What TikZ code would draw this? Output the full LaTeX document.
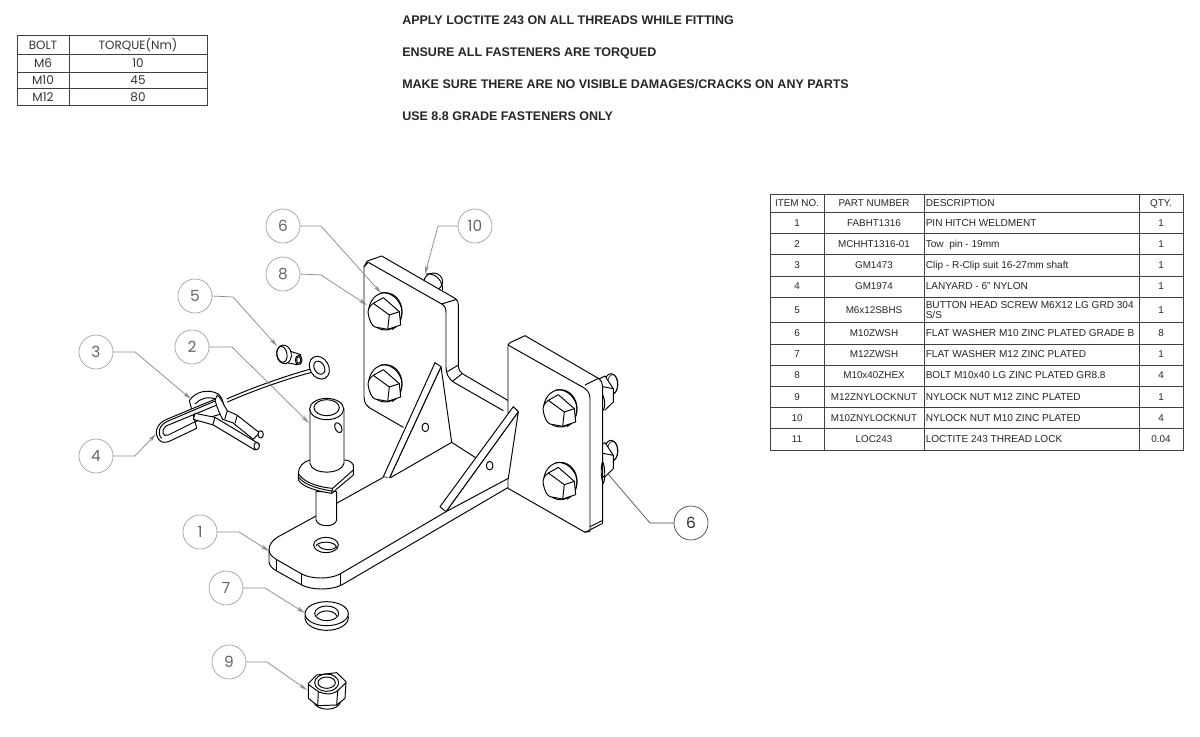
\documentclass[tikz,border=0pt]{standalone}
\usepackage{fontspec}
\setmainfont{Liberation Sans}
\newfontfamily\geo{Poppins}
\usetikzlibrary{arrows.meta}
\definecolor{bal}{gray}{0.62}
\definecolor{lead}{gray}{0.55}
\definecolor{gridc}{gray}{0.25}
\tikzset{
 zA/.style={shift={(60,200)},x=.25pt,y=-.25pt},
 zB/.style={shift={(340,230)},x=.25pt,y=-.25pt},
 zC/.style={shift={(170,450)},x=.25pt,y=-.25pt},
 zD/.style={shift={(290,395)},x=.25pt,y=-.25pt},
 zE/.style={shift={(530,360)},x=.25pt,y=-.25pt},
 zF/.style={shift={(140,380)},x=.25pt,y=-.25pt},
 part/.style={draw=black,fill=white,line width=.72pt,line join=round},
 edge/.style={draw=black,line width=.72pt,line join=round},
 thin edge/.style={draw=black,line width=.45pt},
 balloon/.style={circle,draw=bal,line width=.5pt,minimum size=25.5pt,inner sep=0pt,outer sep=0pt,font=\geo\fontsize{11.5}{12}\selectfont,text=black!60},
 leader/.style={draw=lead,line width=.55pt,-{Stealth[length=6.5pt,width=3pt,fill=lead]}},
 cell/.style={inner sep=0pt,font=\fontsize{7.4}{7.5}\selectfont,text=black!85},
 fixh/.style={text height=5.4pt,text depth=.4pt},
 lcell/.style={inner sep=0pt,font=\fontsize{7.55}{7.5}\selectfont,text=black!85,anchor=west,align=left},
 gcell/.style={inner sep=0pt,text height=6.6pt,text depth=.6pt,font=\geo\fontsize{9}{10}\selectfont,text=black!80},
 note/.style={inner sep=0pt,anchor=west,text height=7pt,text depth=0pt,font=\bfseries\fontsize{9.38}{10}\selectfont,text=black!85},
 hexbolt/.pic={
  \draw[part] (16,-5) ellipse [x radius=50,y radius=56];
  \draw[edge] (2,-60) .. controls (35,-66) and (64,-35) .. (66,-5) .. controls (66,20) and (56,40) .. (36,50);
  \draw[part] (-20,-29) -- (10,-46) -- (58,-4) -- (62,36) -- (23,49) -- cycle;
  \draw[part] (-20,-29) .. controls (-34,-20) and (-38,-6) .. (-35,4) .. controls (-32,22) and (-25,38) .. (-15,42) -- (23,49) -- (28,6) -- cycle;
  \draw[edge] (28,6) -- (58,-4);
 },
 lockpic/.pic={
  \draw[part] (18,-25) ellipse [x radius=20,y radius=32];
  \draw[thin edge] (23,-26) ellipse [x radius=16,y radius=28];
  \draw[part] (-20,-40) -- (0,-50) -- (25,-12) -- (25,28) -- (0,52) -- (-20,52) -- cycle;
  \draw[edge] (-7,-18) -- (25,-12);
 }
}
\begin{document}
\begin{tikzpicture}[x=.75pt,y=-.75pt]
\useasboundingbox (0,0) rectangle (1200,736);
\fill[white] (0,0) rectangle (1200,736);

% --- notes
\node[note] (n1) at (402,20) {APPLY LOCTITE 243 ON ALL THREADS WHILE FITTING};
\node[note] (n2) at (402,52) {ENSURE ALL FASTENERS ARE TORQUED};
\node[note] (n3) at (402,84) {MAKE SURE THERE ARE NO VISIBLE DAMAGES/CRACKS ON ANY PARTS};
\node[note] (n4) at (402,116) {USE 8.8 GRADE FASTENERS ONLY};

% --- torque table
\draw[gridc,line width=.65pt] (17,35.7) rectangle (207,105.3)
  (69,35.7) -- (69,105.3) (17,54.3) -- (207,54.3) (17,72) -- (207,72) (17,88.3) -- (207,88.3);
\foreach \n/\y/\a/\b in {h/45.5/BOLT/{TORQUE(Nm)},a/63.5/M6/10,b/80.5/M10/45,c/97/M12/80}{
  \node[gcell] (tl\n) at (43,\y) {\a};
  \node[gcell] (tr\n) at (138,\y) {\b};
}

% --- parts table
\draw[gridc,line width=.65pt] (770,194) rectangle (1183,450);
\foreach \x in {824,924,1139} \draw[gridc,line width=.65pt] (\x,194) -- (\x,450);
\foreach \y in {212.3,233.3,254.7,276,297.3,322.7,344,365,386.3,407.7,428.7} \draw[gridc,line width=.65pt] (770,\y) -- (1183,\y);
\foreach \n/\y/\p/\d/\q in {
 0/203/{PART NUMBER}/DESCRIPTION/QTY.,
 1/223/FABHT1316/{PIN HITCH WELDMENT}/1,
 2/244/MCHHT1316-01/{Tow\ \ pin - 19mm}/1,
 3/265/GM1473/{Clip - R-Clip suit 16-27mm shaft}/1,
 4/286.5/GM1974/{LANYARD - 6" NYLON}/1,
 6/333.5/M10ZWSH/{FLAT WASHER M10 ZINC PLATED GRADE B}/8,
 7/354.5/M12ZWSH/{FLAT WASHER M12 ZINC PLATED}/1,
 8/375.5/M10x40ZHEX/{BOLT M10x40 LG ZINC PLATED GR8.8}/4,
 9/397/M12ZNYLOCKNUT/{NYLOCK NUT M12 ZINC PLATED}/1,
 10/418/M10ZNYLOCKNUT/{NYLOCK NUT M10 ZINC PLATED}/4,
 11/439.5/LOC243/{LOCTITE 243 THREAD LOCK}/0.04}{
  \node[cell,fixh] (pi\n) at (797,\y) {\ifnum\n=0 ITEM NO.\else\n\fi};
  \node[cell,fixh] (pp\n) at (874,\y) {\p};
  \node[lcell,fixh] (pd\n) at (925.5,\y) {\d};
  \node[cell,fixh] (pq\n) at (1161,\y) {\q};
}
\node[cell,fixh] (pi5) at (797,310) {5};
\node[cell,fixh] (pp5) at (874,310) {M6x12SBHS};
\node[lcell] (pd5) at (925.5,310) {BUTTON HEAD SCREW M6X12 LG GRD 304\\S/S};
\node[cell,fixh] (pq5) at (1161,310) {1};

% --- back plate
\begin{scope}[zB]
 \draw[part] (280,155) ellipse [x radius=28,y radius=26];
 \draw[edge] (258,132) .. controls (285,128) and (308,150) .. (308,180);
 \draw[part] (190,592) -- (100,540) .. controls (80,530) and (72,520) .. (72,500) -- (72,110) -- (82,93) -- (125,78) -- (345,205) .. controls (353,210) and (355,215) .. (355,225)
   -- (355,405) .. controls (355,420) and (362,428) .. (372,434) -- (505,512);
 \draw[edge] (85,97) -- (305,222) .. controls (315,228) and (318,235) .. (318,248) -- (318,412)
   .. controls (318,430) and (325,445) .. (340,456) -- (490,542);
 \draw[edge] (85,97) -- (72,110) (305,222) -- (350,208) (322,425) -- (355,405) (336,455) -- (365,432);
 \pic at (120,249) {hexbolt};
 \pic at (120,465) {hexbolt};
 % gusset 1
 \draw[part] (303,410) -- (335,637) -- (148,745) -- cycle;
 \draw[part] (130,740) -- (148,745) -- (303,410) -- (285,398) -- cycle;
 \draw[edge] (256,592) ellipse [x radius=10,y radius=13];
 \draw[edge] (335,637) -- (410,685);
\end{scope}

% --- base plate
\begin{scope}[zC]
 \draw[part] (640,82) -- (505,157) -- (440,197) -- (325,260) .. controls (305,272) and (297,285) .. (297,300)
   -- (297,335) .. controls (297,345) and (305,355) .. (322,364) -- (395,405) .. controls (425,420) and (480,422) .. (515,405)
   -- (1015,112);
 \draw[edge] (297,300) .. controls (297,312) and (308,322) .. (322,330) -- (395,372)
   .. controls (425,388) and (480,388) .. (510,372) -- (828,185);
 \draw[edge] (320,330) -- (320,364) (395,372) -- (395,406) (510,372) -- (510,407);
 \draw[edge] (468,285) ellipse [x radius=37,y radius=23];
 \draw[edge] (438,288) .. controls (445,272) and (495,272) .. (500,292);
 \draw[edge] (445,285) .. controls (450,300) and (490,305) .. (498,290);
\end{scope}

% --- front plate
\begin{scope}[zE]
 \pic at (225,98) {lockpic};
 \pic at (225,298) {lockpic};
 \draw[part] (-66,-45) -- (-66,385) -- (165,517) -- (218,490) -- (218,80) .. controls (218,70) and (214,62) .. (205,55)
   -- (-15,-73) -- (-60,-52) -- cycle;
 \draw[edge] (-66,-45) -- (152,78) .. controls (172,88) and (180,98) .. (180,115) -- (180,515);
 \draw[edge] (165,75) -- (205,55) (180,500) -- (216,482) (165,516) -- (180,515);
 \draw[edge] (218,105) .. controls (226,120) and (226,140) .. (220,150);
 \draw[edge] (218,305) .. controls (211,320) and (213,360) .. (220,370) .. controls (226,360) and (226,320) .. (218,305);
 \pic at (75,150) {hexbolt};
 \pic at (75,368) {hexbolt};
\end{scope}
% gusset 2 stands in front of the plate edge
\begin{scope}[zB]
 \draw[part] (318,845) -- (535,545) -- (505,745) -- cycle;
 \draw[part] (300,830) -- (318,845) -- (535,545) -- (520,530) -- cycle;
 \draw[edge] (449,707) ellipse [x radius=10,y radius=13];
\end{scope}

% --- tow pin
\begin{scope}[zD]
 \draw[part] (78,290) -- (78,375) .. controls (85,398) and (135,398) .. (140,375) -- (140,290) -- cycle;
 \draw[part] (60,195) .. controls (40,200) and (25,215) .. (25,235) -- (25,255) .. controls (35,270) and (60,285) .. (125,295)
   -- (190,240) -- (190,210) .. controls (185,200) and (175,195) .. (162,195) -- cycle;
 \draw[edge] (25,235) .. controls (35,255) and (70,275) .. (128,280) -- (190,225);
 \draw[edge] (128,280) -- (125,295) (25,245) .. controls (35,262) and (65,278) .. (125,288);
 \draw[part] (60,42) -- (60,205) .. controls (65,240) and (155,240) .. (162,205) -- (162,42) -- cycle;
 \draw[part] (110,42) ellipse [x radius=51,y radius=32];
 \draw[edge] (110,38) ellipse [x radius=38,y radius=24];
 \draw[edge,rotate around={25:(145,98)}] (145,98) ellipse [x radius=10,y radius=16];
\end{scope}

% --- washer 7
\begin{scope}[zC]
 \draw[part] (470,503) ellipse [x radius=65,y radius=38];
 \draw[part] (470,491) ellipse [x radius=65,y radius=36];
 \draw[edge] (470,490) ellipse [x radius=36,y radius=22];
 \draw[edge] (440,497) .. controls (450,478) and (490,478) .. (500,497);
 % nut 9
 \draw[part] (430,755) .. controls (440,785) and (505,785) .. (512,755) -- cycle;
 \draw[part] (415,700) -- (440,675) -- (500,668) -- (528,695) -- (525,745) -- (500,765) -- (443,767) -- (415,745) -- cycle;
 \draw[edge] (415,703) -- (445,725) -- (443,767) (445,725) .. controls (470,735) and (490,733) .. (503,722) -- (500,765) (503,722) -- (528,698);
 \draw[edge] (470,698) ellipse [x radius=36,y radius=26];
 \draw[edge] (470,698) ellipse [x radius=26,y radius=17];
\end{scope}

% --- screw 5 and lanyard
\begin{scope}[zA]
 \draw[part] (680,450) -- (722,464) -- (712,494) -- (680,488) -- cycle;
 \draw[part,rotate around={10:(672,463)}] (672,463) ellipse [x radius=22,y radius=28];
 \draw[edge,rotate around={10:(666,463)}] (666,463) ellipse [x radius=15,y radius=24];
 \draw[part] (716,480) ellipse [x radius=10,y radius=14];
 \draw[edge] (716,480) ellipse [x radius=6,y radius=10];
 \draw[edge] (752,507) .. controls (670,530) and (580,562) .. (500,597);
 \draw[edge] (755,517) .. controls (675,538) and (585,570) .. (502,606);
 \draw[part,rotate around={30:(778,503)}] (778,503) ellipse [x radius=28,y radius=36];
 \draw[edge,rotate around={30:(778,503)}] (778,503) ellipse [x radius=15,y radius=21];
\end{scope}
\begin{scope}[zF]
 % clip ring
 \draw[part] (148,62) .. controls (165,35) and (205,25) .. (235,42) .. controls (250,55) and (255,85) .. (250,100) -- (165,125) -- cycle;
 \draw[edge] (165,72) .. controls (180,55) and (205,48) .. (228,58);
 % loop
 \draw[part] (232,55) -- (80,118) .. controls (50,130) and (40,160) .. (58,180) .. controls (65,190) and (80,188) .. (92,182) -- (170,145) -- (165,125) -- (85,165) .. controls (70,172) and (60,155) .. (78,138) -- (238,72) -- cycle;
 \draw[edge] (228,62) -- (82,124) .. controls (58,135) and (50,160) .. (65,175);
 % clip legs
 \draw[part] (232,45) .. controls (245,55) and (250,75) .. (262,92) -- (292,106) -- (358,158) -- (340,178) -- (278,128) -- (248,118) .. controls (238,100) and (230,80) .. (225,60) -- cycle;
 \draw[edge] (262,92) -- (254,118) (292,106) -- (285,130);
 \draw[part] (165,100) -- (225,112) -- (358,192) -- (345,210) -- (220,135) -- (160,118) -- cycle;
 \draw[edge] (225,112) -- (218,135);
 \draw[part] (362,163) ellipse [x radius=8,y radius=11];
 \draw[part] (350,198) ellipse [x radius=8,y radius=11];
\end{scope}

% --- balloons
\node[balloon] (b6a) at (283,226) {6};
\node[balloon] (b8) at (283,274) {8};
\node[balloon] (b5) at (195,296) {5};
\node[balloon] (b2) at (192,347) {2};
\node[balloon] (b3) at (96,352) {3};
\node[balloon] (b4) at (96,456) {4};
\node[balloon] (b10) at (475,226) {10};
\node[balloon,draw=black!75,text=black!85] (b6b) at (691,523) {6};
\node[balloon] (b1) at (200,532) {1};
\node[balloon] (b7) at (226,588) {7};
\node[balloon] (b9) at (229,662) {9};

\coordinate (k6a) at (321,226); \coordinate (t6a) at (381,293);
\coordinate (k8) at (321,275); \coordinate (t8) at (367,305);
\coordinate (k5) at (233,297); \coordinate (t5) at (277,346);
\coordinate (k2) at (232,347); \coordinate (t2) at (309,423);
\coordinate (k3) at (135,352); \coordinate (t3) at (191,399);
\coordinate (k4) at (135,456); \coordinate (t4) at (156,434);
\coordinate (k10) at (438,226); \coordinate (t10) at (425,274);
\coordinate (k6b) at (650,523); \coordinate (t6b) at (608,474);
\coordinate (k1) at (239,532); \coordinate (t1) at (269,551);
\coordinate (k7) at (265,588); \coordinate (t7) at (305,613);
\coordinate (k9) at (267,662); \coordinate (t9) at (307,690);
\draw[leader] (b6a.east) -- (k6a) -- (t6a);
\draw[leader] (b8.east) -- (k8) -- (t8);
\draw[leader] (b5.east) -- (k5) -- (t5);
\draw[leader] (b2.east) -- (k2) -- (t2);
\draw[leader] (b3.east) -- (k3) -- (t3);
\draw[leader] (b4.east) -- (k4) -- (t4);
\draw[leader] (b10.west) -- (k10) -- (t10);
\draw[draw=black!70,line width=.5pt] (b6b.west) -- (k6b) -- (t6b);
\draw[leader] (b1.east) -- (k1) -- (t1);
\draw[leader] (b7.east) -- (k7) -- (t7);
\draw[leader] (b9.east) -- (k9) -- (t9);
\end{tikzpicture}
\end{document}
